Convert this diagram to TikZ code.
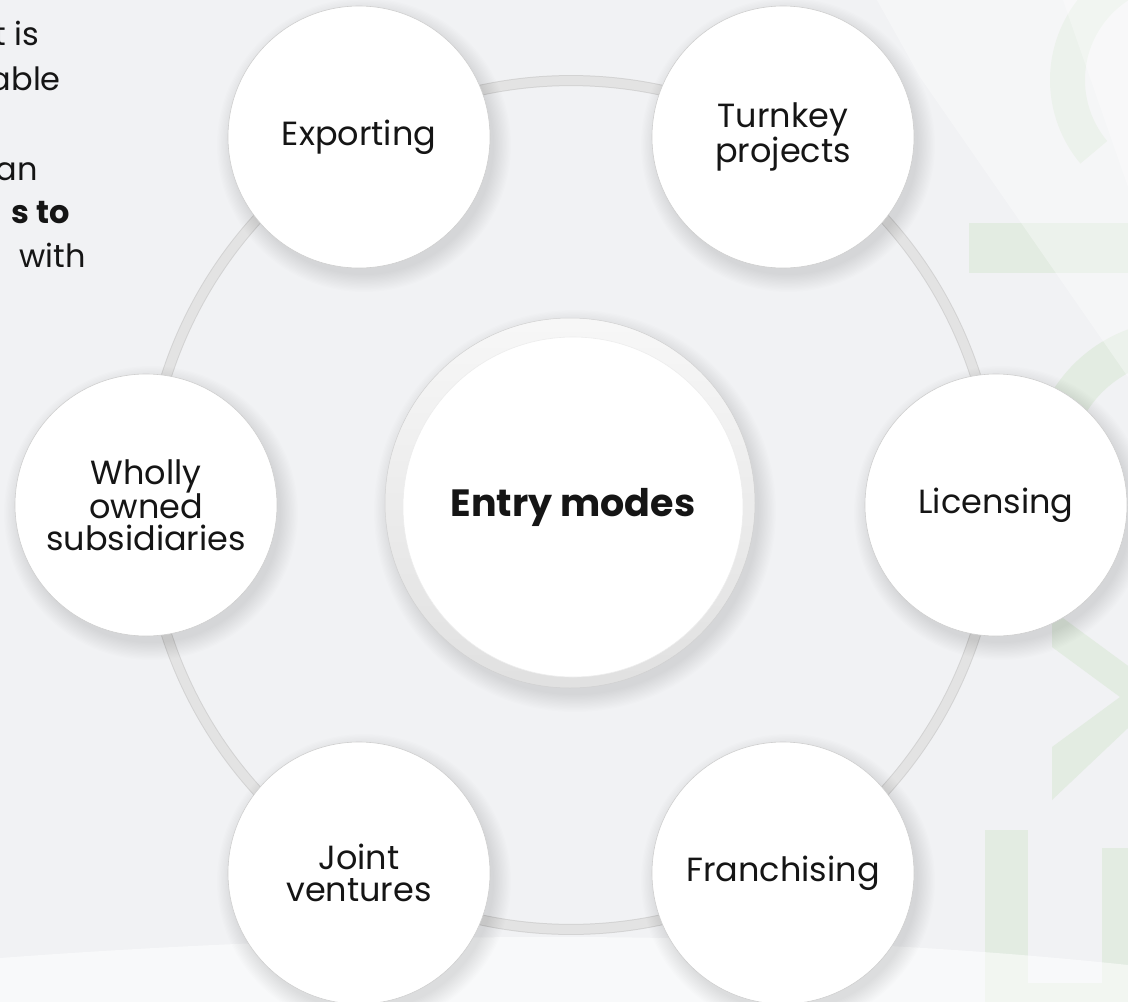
\documentclass[tikz,border=0pt]{standalone}
\usepackage{fontspec}
\setmainfont{Poppins}
\usetikzlibrary{calc}
\pgfdeclarelayer{back}
\pgfdeclarelayer{ring}
\pgfdeclarelayer{shade}
\pgfsetlayers{back,ring,shade,main}

\definecolor{paper}{HTML}{F1F2F4}
\definecolor{leaf}{HTML}{E3ECE2}
\definecolor{bandfill}{HTML}{E3E3E3}
\definecolor{bandedge}{HTML}{D3D3D3}
\definecolor{rimline}{HTML}{CFCFCF}
\definecolor{ink}{HTML}{151515}

\tikzset{
  mode/.style={circle, fill=white, draw=rimline, line width=0.6pt, minimum size=262pt,
    inner sep=0pt, align=center, text=ink, font=\fontsize{33.5pt}{31.5pt}\selectfont},
  hub/.style={circle, fill=white, draw=white!93!black, line width=0.6pt, minimum size=340pt,
    inner sep=0pt, text=ink, font=\bfseries\fontsize{38pt}{40pt}\selectfont},
  bandout/.style={line width=11pt, draw=bandedge},
  bandin/.style={line width=9pt, draw=bandfill},
  sidetext/.style={anchor=base east, inner sep=0pt, text=ink, font=\fontsize{32pt}{32pt}\selectfont},
  arcstep/.style={bend left=30, looseness=0.91},
}

% soft drop shadow under a disc: #1 centre, #2 radius
\newcommand\discshadow[2]{%
  \foreach \k in {0,...,13}{%
    \fill[black, opacity=0.009] ($(#1)+(5,8)$) circle[radius={#2+16-\k*1.3}];}}

\begin{document}
\begin{tikzpicture}[x=1pt, y=-1pt]
\useasboundingbox (0,0) rectangle (1128,1002);

% positions of the six entry modes around the hub
\coordinate (H)  at (571,505);
\coordinate (cE) at (359,137);
\coordinate (cT) at (783,137);
\coordinate (cL) at (996,505);
\coordinate (cF) at (783,873);
\coordinate (cJ) at (359,873);
\coordinate (cW) at (146,505);

% ---------- background ----------
\begin{pgfonlayer}{back}
  \begin{scope}
    \clip (0,0) rectangle (1128,1002);
    \fill[paper] (0,0) rectangle (1128,1002);
    % pale lettering on the right
    \fill[leaf] ($(1180,80)+(140:130)$) arc[start angle=140, end angle=250, radius=130]
      -- ($(1180,80)+(250:95)$) arc[start angle=250, end angle=140, radius=95] -- cycle;
    \fill[leaf] (969,223) rectangle (1140,273);
    \fill[leaf] ($(1180,470)+(180:150)$) arc[start angle=180, end angle=280, radius=150]
      -- ($(1180,470)+(280:110)$) arc[start angle=280, end angle=180, radius=110] -- cycle;
    \fill[leaf] (1052,610) -- (1165,693) -- (1052,800) -- (1052,747) -- (1120,697)
      -- (1052,647) -- cycle;
    \fill[leaf] (985,830) rectangle (1028,1010);
    \fill[leaf] (985,983) rectangle (1150,1010);
    \fill[leaf] (1102,848) rectangle (1150,1010);
    % light sweeps
    \fill[white, opacity=.35] (877,0) -- (1128,0) -- (1128,377) -- (920,77) -- cycle;
    \fill[white, opacity=.3] (1063,0) -- (1128,0) -- (1128,187) -- cycle;
    \fill[white, opacity=.55] (0,958) .. controls (400,928) and (800,930) .. (1128,965)
      -- (1128,1002) -- (0,1002) -- cycle;
  \end{scope}
\end{pgfonlayer}

% ---------- shadows ----------
\begin{pgfonlayer}{shade}
  \foreach \c in {cE,cT,cL,cF,cJ,cW}{\discshadow{\c}{131}}
  \discshadow{570,503}{185}
\end{pgfonlayer}

% ---------- hub ----------
\shade[shading angle=45, top color=white!97!black, bottom color=white!88!black,
  draw=white!82!black, line width=0.5pt] (570,503) circle[radius=185];
\node[hub] (hub) at (573,507) {Entry modes};

% ---------- entry modes ----------
\node[mode] (exp) at (cE) {Exporting};
\node[mode] (tur) at (cT) {Turnkey\\projects};
\node[mode] (lic) at (cL) {Licensing};
\node[mode] (fra) at (cF) {Franchising};
\node[mode] (joi) at (cJ) {Joint\\ventures};
\node[mode] (who) at (cW) {Wholly\\owned\\subsidiaries};

% ---------- ring joining the modes ----------
\begin{pgfonlayer}{ring}
  \foreach \a/\b in {exp/tur,tur/lic,lic/fra,fra/joi,joi/who,who/exp}{
    \draw[bandout] (\a.center) to[arcstep] (\b.center);
    \draw[bandin] (\a.center) to[arcstep] (\b.center);}
\end{pgfonlayer}

% ---------- side text ----------
\node[sidetext] (s1) at (39,45) {t is};
\node[sidetext] (s2) at (61,90) {able};
\node[sidetext] (s3) at (38,180) {an};
\node[sidetext] (s4) at (70,223) {\bfseries s to};
\node[sidetext] (s5) at (86,267) {with};
\end{tikzpicture}
\end{document}
